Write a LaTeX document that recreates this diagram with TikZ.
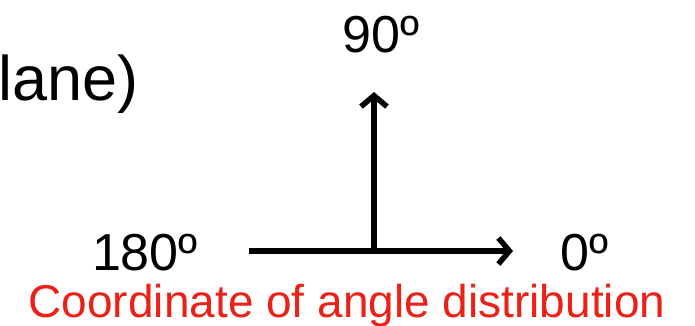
\documentclass[tikz,border=0pt]{standalone}
\usepackage{fontspec}
\setmainfont{Liberation Sans}
\usetikzlibrary{arrows.meta}
\usetikzlibrary{positioning}
\tikzset{
    x=1pt, y=1pt,
    axis/.style={
        line width=5.5pt,
        -{Straight Barb[length=11pt, width=26pt]}
    },
    angle label/.style={
        inner sep=0pt,
        font=\fontsize{52}{58}\selectfont
    },
    caption label/.style={
        inner sep=0pt,
        text=captionred,
        font=\fontsize{46}{50}\selectfont
    }
}
\definecolor{captionred}{RGB}{236,32,22}

\begin{document}
\begin{tikzpicture}
            \useasboundingbox (0,0) rectangle (695,325);
            \coordinate (origin) at (374,74);
            \coordinate (north) at (374,233);
            \coordinate (west) at (249,74);
            \coordinate (east) at (513,74);

            \node[angle label, above=40pt of north, anchor=base, xshift=7pt] (deg90) {90º};
            \node[angle label, left=51pt of west, anchor=base east, yshift=-19pt] (deg180) {180º};
            \node[angle label, right=47pt of east, anchor=base west, yshift=-19pt] (deg0) {0º};
            \node[angle label, font=\fontsize{63}{68}\selectfont, anchor=base east] (plane) at (139,225) {lane)};
            \node[caption label, anchor=base] (caption) at (347,8) {Coordinate of angle distribution};

            \draw[axis] (west) -- (east);
            \draw[axis] (origin) -- (north);
        \end{tikzpicture}
\end{document}
